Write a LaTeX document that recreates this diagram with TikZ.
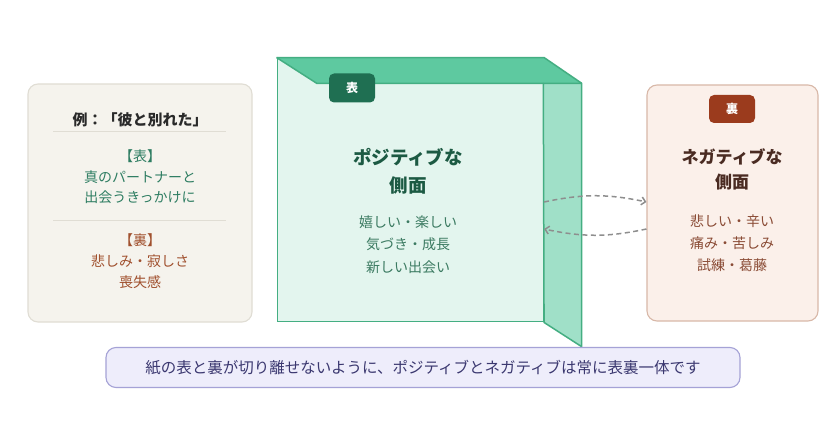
\documentclass[tikz,border=0pt]{standalone}
\usepackage{fontspec}
\setmainfont{Noto Sans CJK JP}
\usetikzlibrary{arrows.meta,calc}
\definecolor{lbfill}{HTML}{F5F3ED}
\definecolor{lbline}{HTML}{E0DDD4}
\definecolor{darktxt}{HTML}{2A2A2A}
\definecolor{omotetxt}{HTML}{2E7D62}
\definecolor{uratxt}{HTML}{A0502E}
\definecolor{frontfill}{HTML}{E3F5EE}
\definecolor{topfill}{HTML}{5EC9A0}
\definecolor{sidefill}{HTML}{A0E0C8}
\definecolor{greenline}{HTML}{44AE82}
\definecolor{tagomote}{HTML}{1F6F52}
\definecolor{postitle}{HTML}{1C5A43}
\definecolor{posbody}{HTML}{3B7A61}
\definecolor{rbfill}{HTML}{FBF0EA}
\definecolor{rbline}{HTML}{D8B8A8}
\definecolor{tagura}{HTML}{9B3B1D}
\definecolor{negtitle}{HTML}{4A2B22}
\definecolor{negbody}{HTML}{8A4B35}
\definecolor{capfill}{HTML}{EEEDFB}
\definecolor{capline}{HTML}{A5A2D6}
\definecolor{captxt}{HTML}{3B3870}
\definecolor{arrowgray}{HTML}{8E8E8E}
\tikzset{
  panel/.style={rectangle, rounded corners=10pt, line width=1.1pt, inner sep=0pt},
  tagbox/.style={rectangle, rounded corners=5pt, inner sep=0pt, minimum width=46pt, minimum height=29pt, text=white, font=\fontsize{12}{14}\selectfont\bfseries},
  txt/.style={align=center, inner sep=0pt},
  swap/.style={draw=arrowgray, line width=1.5pt, dash pattern=on 5pt off 3.5pt, -{Straight Barb[length=4pt,width=8pt]}, bend left=12}
}
\begin{document}
\begin{tikzpicture}[x=1pt,y=-1pt]
\useasboundingbox (0,0) rectangle (840,441);
\fill[white] (0,0) rectangle (840,441);

% left example box
\node[panel, fill=lbfill, draw=lbline, minimum width=224pt, minimum height=238pt] (lbox) at (140,203) {};
\node[txt, text=darktxt, font=\fontsize{15}{18}\selectfont\bfseries] (lbtitle) at (140,120) {例：「彼と別れた」};
\coordinate (d1a) at (53,131); \coordinate (d1b) at (226,131);
\coordinate (d2a) at (53,220); \coordinate (d2b) at (226,220);
\draw[lbline, line width=0.9pt] (d1a) -- (d1b);
\draw[lbline, line width=0.9pt] (d2a) -- (d2b);
\node[txt, text=omotetxt, font=\fontsize{14}{20.5}\selectfont] (lbomote) at (140,177) {【表】\\真のパートナーと\\出会うきっかけに};
\node[txt, text=uratxt, font=\fontsize{14}{21}\selectfont] (lbura) at (140,261) {【裏】\\悲しみ・寂しさ\\喪失感};

% main paper (front face with folded top and right faces)
\node[rectangle, fill=frontfill, draw=greenline, line width=1.5pt, minimum width=266pt, minimum height=263.4pt, inner sep=0pt] (front) at (410.3,190) {};
\coordinate (topinL) at (316.7,83.3);
\coordinate (topinR) at (543.3,83.3);
\coordinate (topoutR) at (581.7,83.3);
\coordinate (sidebot) at (581.7,346.7);
\fill[topfill] (front.north west) -- (front.north east) -- (topoutR) -- (topinL) -- cycle;
\draw[greenline, line width=1.5pt, line join=round] (front.north west) -- (front.north east) -- (topoutR);
\draw[greenline, line width=1.5pt] (front.north west) -- (topinL) -- (topinR);
\filldraw[fill=sidefill, draw=greenline, line width=1.5pt, line join=round] (topinR) -- (topoutR) -- (sidebot) -- (front.south east) -- cycle;
\node[tagbox, fill=tagomote] (tagO) at (352,88) {表};
\node[txt, text=postitle, font=\fontsize{18.5}{28}\selectfont\bfseries] (postitle) at (408,171) {ポジティブな\\側面};
\node[txt, text=posbody, font=\fontsize{14}{22.5}\selectfont] (posbody) at (408,244.3) {嬉しい・楽しい\\気づき・成長\\新しい出会い};

% right negative box
\node[panel, fill=rbfill, draw=rbline, minimum width=171pt, minimum height=236pt] (rbox) at (732.5,203) {};
\node[tagbox, fill=tagura, minimum height=28pt] (tagU) at (732,109) {裏};
\node[txt, text=negtitle, font=\fontsize{17}{24.5}\selectfont\bfseries] (negtitle) at (732,169.5) {ネガティブな\\側面};
\node[txt, text=negbody, font=\fontsize{14}{21.7}\selectfont] (negbody) at (732,243.3) {悲しい・辛い\\痛み・苦しみ\\試練・葛藤};

% dashed swap arrows
\draw[swap] ([yshift=-12pt]front.east) to ([yshift=1pt]rbox.west);
\draw[swap] ([yshift=-26pt]rbox.west) to ([yshift=-39pt]front.east);

% caption
\node[panel, fill=capfill, draw=capline, minimum width=634pt, minimum height=40pt] (cap) at (423,367.5) {};
\node[txt, text=captxt, font=\fontsize{15.5}{18}\selectfont] (captext) at (423,368) {紙の表と裏が切り離せないように、ポジティブとネガティブは常に表裏一体です};
\end{tikzpicture}
\end{document}
